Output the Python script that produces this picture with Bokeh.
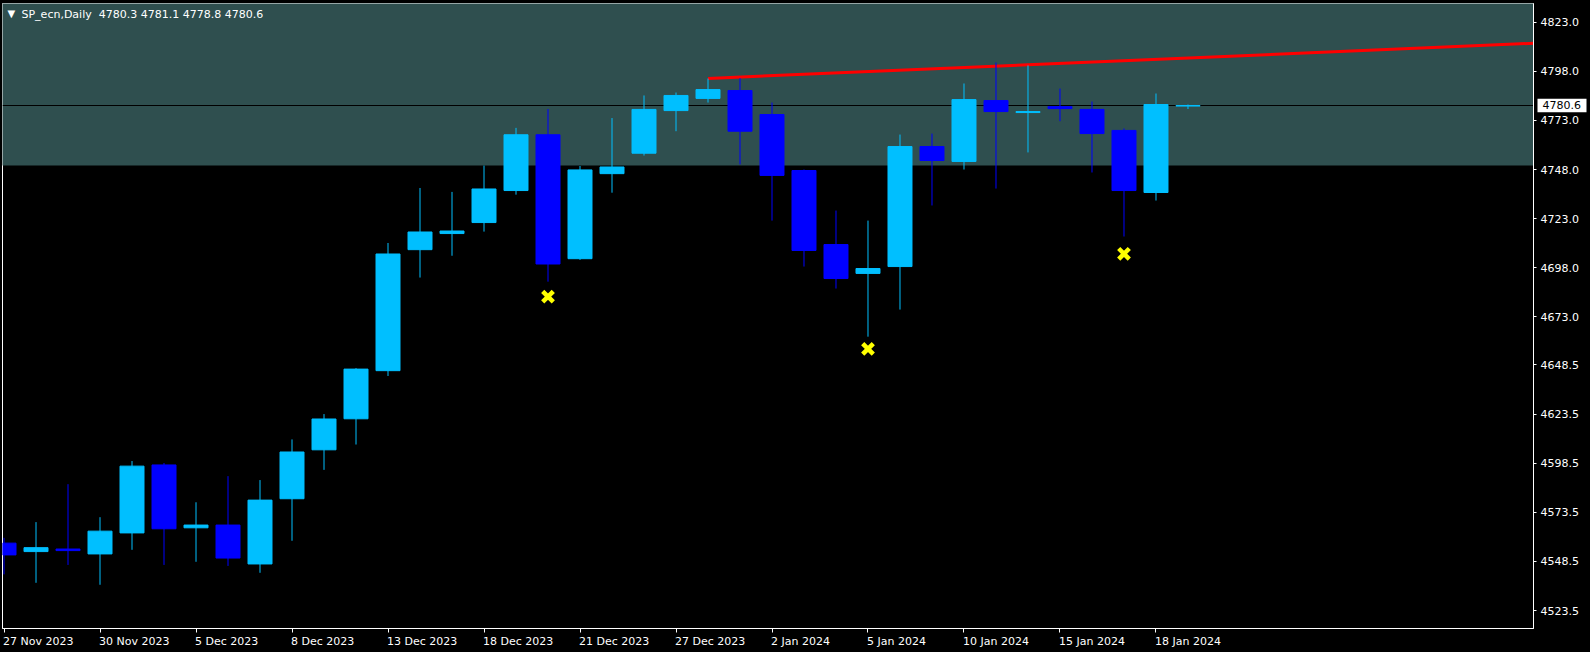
from bokeh.plotting import figure
from bokeh.models import (ColumnDataSource, FixedTicker, Label, Range1d, LinearAxis,
                          NumeralTickFormatter)
from bokeh.embed import file_html
from bokeh.resources import INLINE

# ---------------- data ----------------
symbol_name = "SP_ecn,Daily"
last_ohlc = [4780.3, 4781.1, 4778.8, 4780.6]
dates = ["27 Nov 2023", "28 Nov 2023", "29 Nov 2023", "30 Nov 2023", "1 Dec 2023",
         "4 Dec 2023", "5 Dec 2023", "6 Dec 2023", "7 Dec 2023", "8 Dec 2023",
         "11 Dec 2023", "12 Dec 2023", "13 Dec 2023", "14 Dec 2023", "15 Dec 2023",
         "18 Dec 2023", "19 Dec 2023", "20 Dec 2023", "21 Dec 2023", "22 Dec 2023",
         "26 Dec 2023", "27 Dec 2023", "28 Dec 2023", "29 Dec 2023", "2 Jan 2024",
         "3 Jan 2024", "4 Jan 2024", "5 Jan 2024", "8 Jan 2024", "9 Jan 2024",
         "10 Jan 2024", "11 Jan 2024", "12 Jan 2024", "15 Jan 2024", "16 Jan 2024",
         "17 Jan 2024", "18 Jan 2024", "19 Jan 2024"]
opens = [4557.8, 4553.5, 4554.8, 4552.3, 4563.0, 4597.6, 4565.6, 4567.0, 4547.2, 4580.4,
         4605.3, 4621.1, 4645.6, 4707.2, 4715.4, 4721.0, 4737.3, 4765.7, 4702.6, 4745.9,
         4756.3, 4778.0, 4784.2, 4788.2, 4776.0, 4747.5, 4709.8, 4695.1, 4698.6, 4759.7,
         4752.1, 4783.1, 4777.0, 4780.0, 4778.6, 4767.9, 4736.3, 4780.3]
highs = [4560.5, 4568.5, 4587.8, 4571.0, 4599.6, 4598.6, 4578.6, 4591.9, 4589.9, 4610.6,
         4623.5, 4646.9, 4710.6, 4738.6, 4736.6, 4750.0, 4769.2, 4778.8, 4749.8, 4774.2,
         4785.7, 4787.2, 4794.3, 4794.5, 4782.1, 4748.0, 4727.1, 4722.0, 4765.8, 4766.3,
         4791.8, 4802.5, 4801.0, 4789.2, 4782.6, 4768.9, 4786.7, 4781.1]
lows = [4541.9, 4537.6, 4546.7, 4536.6, 4554.4, 4546.7, 4548.3, 4546.2, 4542.7, 4559.0,
        4595.1, 4608.0, 4642.9, 4693.0, 4704.1, 4716.4, 4735.2, 4690.9, 4702.0, 4736.2,
        4755.1, 4767.5, 4782.1, 4750.6, 4722.0, 4698.6, 4687.4, 4662.9, 4676.7, 4729.7,
        4748.0, 4738.3, 4756.7, 4772.6, 4746.5, 4713.9, 4732.2, 4778.8]
closes = [4551.8, 4555.5, 4554.0, 4563.9, 4597.0, 4565.1, 4567.0, 4550.2, 4579.7, 4604.2,
          4621.0, 4646.4, 4705.0, 4716.2, 4716.7, 4738.1, 4765.7, 4699.9, 4747.8, 4749.3,
          4778.6, 4785.7, 4788.7, 4767.5, 4745.0, 4706.8, 4692.5, 4697.6, 4759.7, 4752.6,
          4783.6, 4777.5, 4777.5, 4779.0, 4766.3, 4737.3, 4781.1, 4780.6]

date_tick_idx = [0, 3, 6, 9, 12, 15, 18, 21, 24, 27, 30, 33, 36]
price_ticks = [4823.0, 4798.0, 4773.0, 4748.0, 4723.0, 4698.0, 4673.0,
               4648.5, 4623.5, 4598.5, 4573.5, 4548.5, 4523.5]

marker_idx = [17, 27, 35]
marker_price = [4683.3, 4656.7, 4705.1]

trend_x = [22, 50]
trend_y = [4794.4, 4813.8]

zone_low = 4750.0
zone_high = 4840.0
last_price = 4780.6

# ---------------- styling / layout ----------------
BULL = "#00BFFF"
BEAR = "#0000FF"
ZONE = "#2F4F4F"
FONT = "DejaVu Sans"
FS = 11
FRAME_W, FRAME_H = 1531, 625
BAR_PX = 32.0
PRICE_AXIS_W = 46      # approx. width of the price-scale panel (tick + standoff + label)

x_start, x_end = -0.047, 47.797
y_start, y_end = 4514.34, 4832.52

# approximate DejaVu Sans advance widths (em) to left-align date labels at ticks
_adv = {" ": 0.318, ".": 0.318, "N": 0.748, "o": 0.612, "v": 0.592, "D": 0.770,
        "e": 0.615, "c": 0.550, "J": 0.295, "a": 0.613, "n": 0.634}


def text_width(s):
    return sum(_adv.get(ch, 0.636) for ch in s) * FS


n = len(opens)
idx = list(range(n))
colors = [BULL if c >= o else BEAR for o, c in zip(opens, closes)]
src = ColumnDataSource(dict(
    x=idx,
    top=[max(o, c) for o, c in zip(opens, closes)],
    bottom=[min(o, c) for o, c in zip(opens, closes)],
    high=highs, low=lows, color=colors,
))

p = figure(frame_width=FRAME_W, frame_height=FRAME_H, output_backend="svg",
           toolbar_location=None, y_axis_location="right",
           x_range=Range1d(x_start, x_end), y_range=Range1d(y_start, y_end),
           min_border_left=2, min_border_top=3, min_border_right=57,
           min_border_bottom=24)
p.background_fill_color = "black"
p.border_fill_color = "black"
p.outline_line_color = "white"
p.outline_line_width = 1
p.xgrid.visible = False
p.ygrid.visible = False

# zone rectangle
p.quad(left=[-5], right=[60], bottom=[zone_low], top=[zone_high],
       fill_color=ZONE, line_color=None)

# last price line
p.hspan(y=[last_price], line_color="black", line_width=1)

# trendline
p.line(trend_x, trend_y, line_color="#FF0000", line_width=3)

# candles
p.segment(x0="x", x1="x", y0="low", y1="high", line_color="color", line_width=1,
          source=src)
p.vbar(x="x", top="top", bottom="bottom", width=0.75, fill_color="color",
       line_color="color", line_width=1, source=src)

# markers
p.scatter(marker_idx, marker_price, marker="x", size=15, line_width=4.5,
          line_color="#FFFF00")

# y axis (right) – price scale
ya = p.yaxis[0]
ya.ticker = FixedTicker(ticks=price_ticks)
ya.formatter = NumeralTickFormatter(format="0.0")
ya.major_label_text_color = "white"
ya.major_label_text_font = FONT
ya.major_label_text_font_size = f"{FS}px"
ya.axis_line_color = "white"
ya.major_tick_line_color = "white"
ya.major_tick_in = 0
ya.major_tick_out = 3
ya.minor_tick_line_color = None
ya.major_label_standoff = 4

# second right axis carrying only the current-price tag (white box + black text)
tag_axis = LinearAxis(ticker=FixedTicker(ticks=[last_price]),
                      formatter=NumeralTickFormatter(format="0.0"))
tag_axis.axis_line_color = None
tag_axis.minor_tick_line_color = None
tag_axis.major_tick_line_color = "white"
tag_axis.major_tick_line_width = 13.5
tag_axis.major_tick_in = PRICE_AXIS_W - 2
tag_axis.major_tick_out = 5
tag_axis.major_label_standoff = -44
tag_axis.major_label_text_color = "black"
tag_axis.major_label_text_font = FONT
tag_axis.major_label_text_font_size = f"{FS}px"
p.add_layout(tag_axis, "right")

# x axis (bottom): visible tick marks at the bars (minor ticks),
# labels centred so that they start at their tick
label_texts = [dates[i] for i in date_tick_idx]
label_centres = [i + (text_width(t) / 2 - 1) / BAR_PX
                 for i, t in zip(date_tick_idx, label_texts)]
xa = p.xaxis[0]
xa.ticker = FixedTicker(ticks=label_centres, minor_ticks=date_tick_idx)
xa.major_label_overrides = {c: t for c, t in zip(label_centres, label_texts)}
xa.major_label_text_color = "white"
xa.major_label_text_font = FONT
xa.major_label_text_font_size = f"{FS}px"
xa.axis_line_color = "white"
xa.major_tick_line_color = None
xa.major_tick_in = 0
xa.major_tick_out = 0
xa.minor_tick_line_color = "white"
xa.minor_tick_in = 0
xa.minor_tick_out = 4
xa.major_label_standoff = 2

# title
title_text = symbol_name + "\u00a0\u00a0" + " ".join("%.1f" % v for v in last_ohlc)
p.add_layout(Label(x=5, y=FRAME_H - 4.5, x_units="screen", y_units="screen",
                   text="\u25BC", text_color="white", text_font=FONT,
                   text_font_size="10px", text_baseline="top"))
p.add_layout(Label(x=x_start, y=y_end, x_offset=19, y_offset=-11, text=title_text,
                   text_color="white", text_font=FONT, text_font_size=f"{FS}px",
                   text_baseline="alphabetic"))

template = """{% block preamble %}<style>html, body { background: #000000; }</style>{% endblock %}
"""

open("out.html", "w").write(file_html(p, INLINE, template=template))
